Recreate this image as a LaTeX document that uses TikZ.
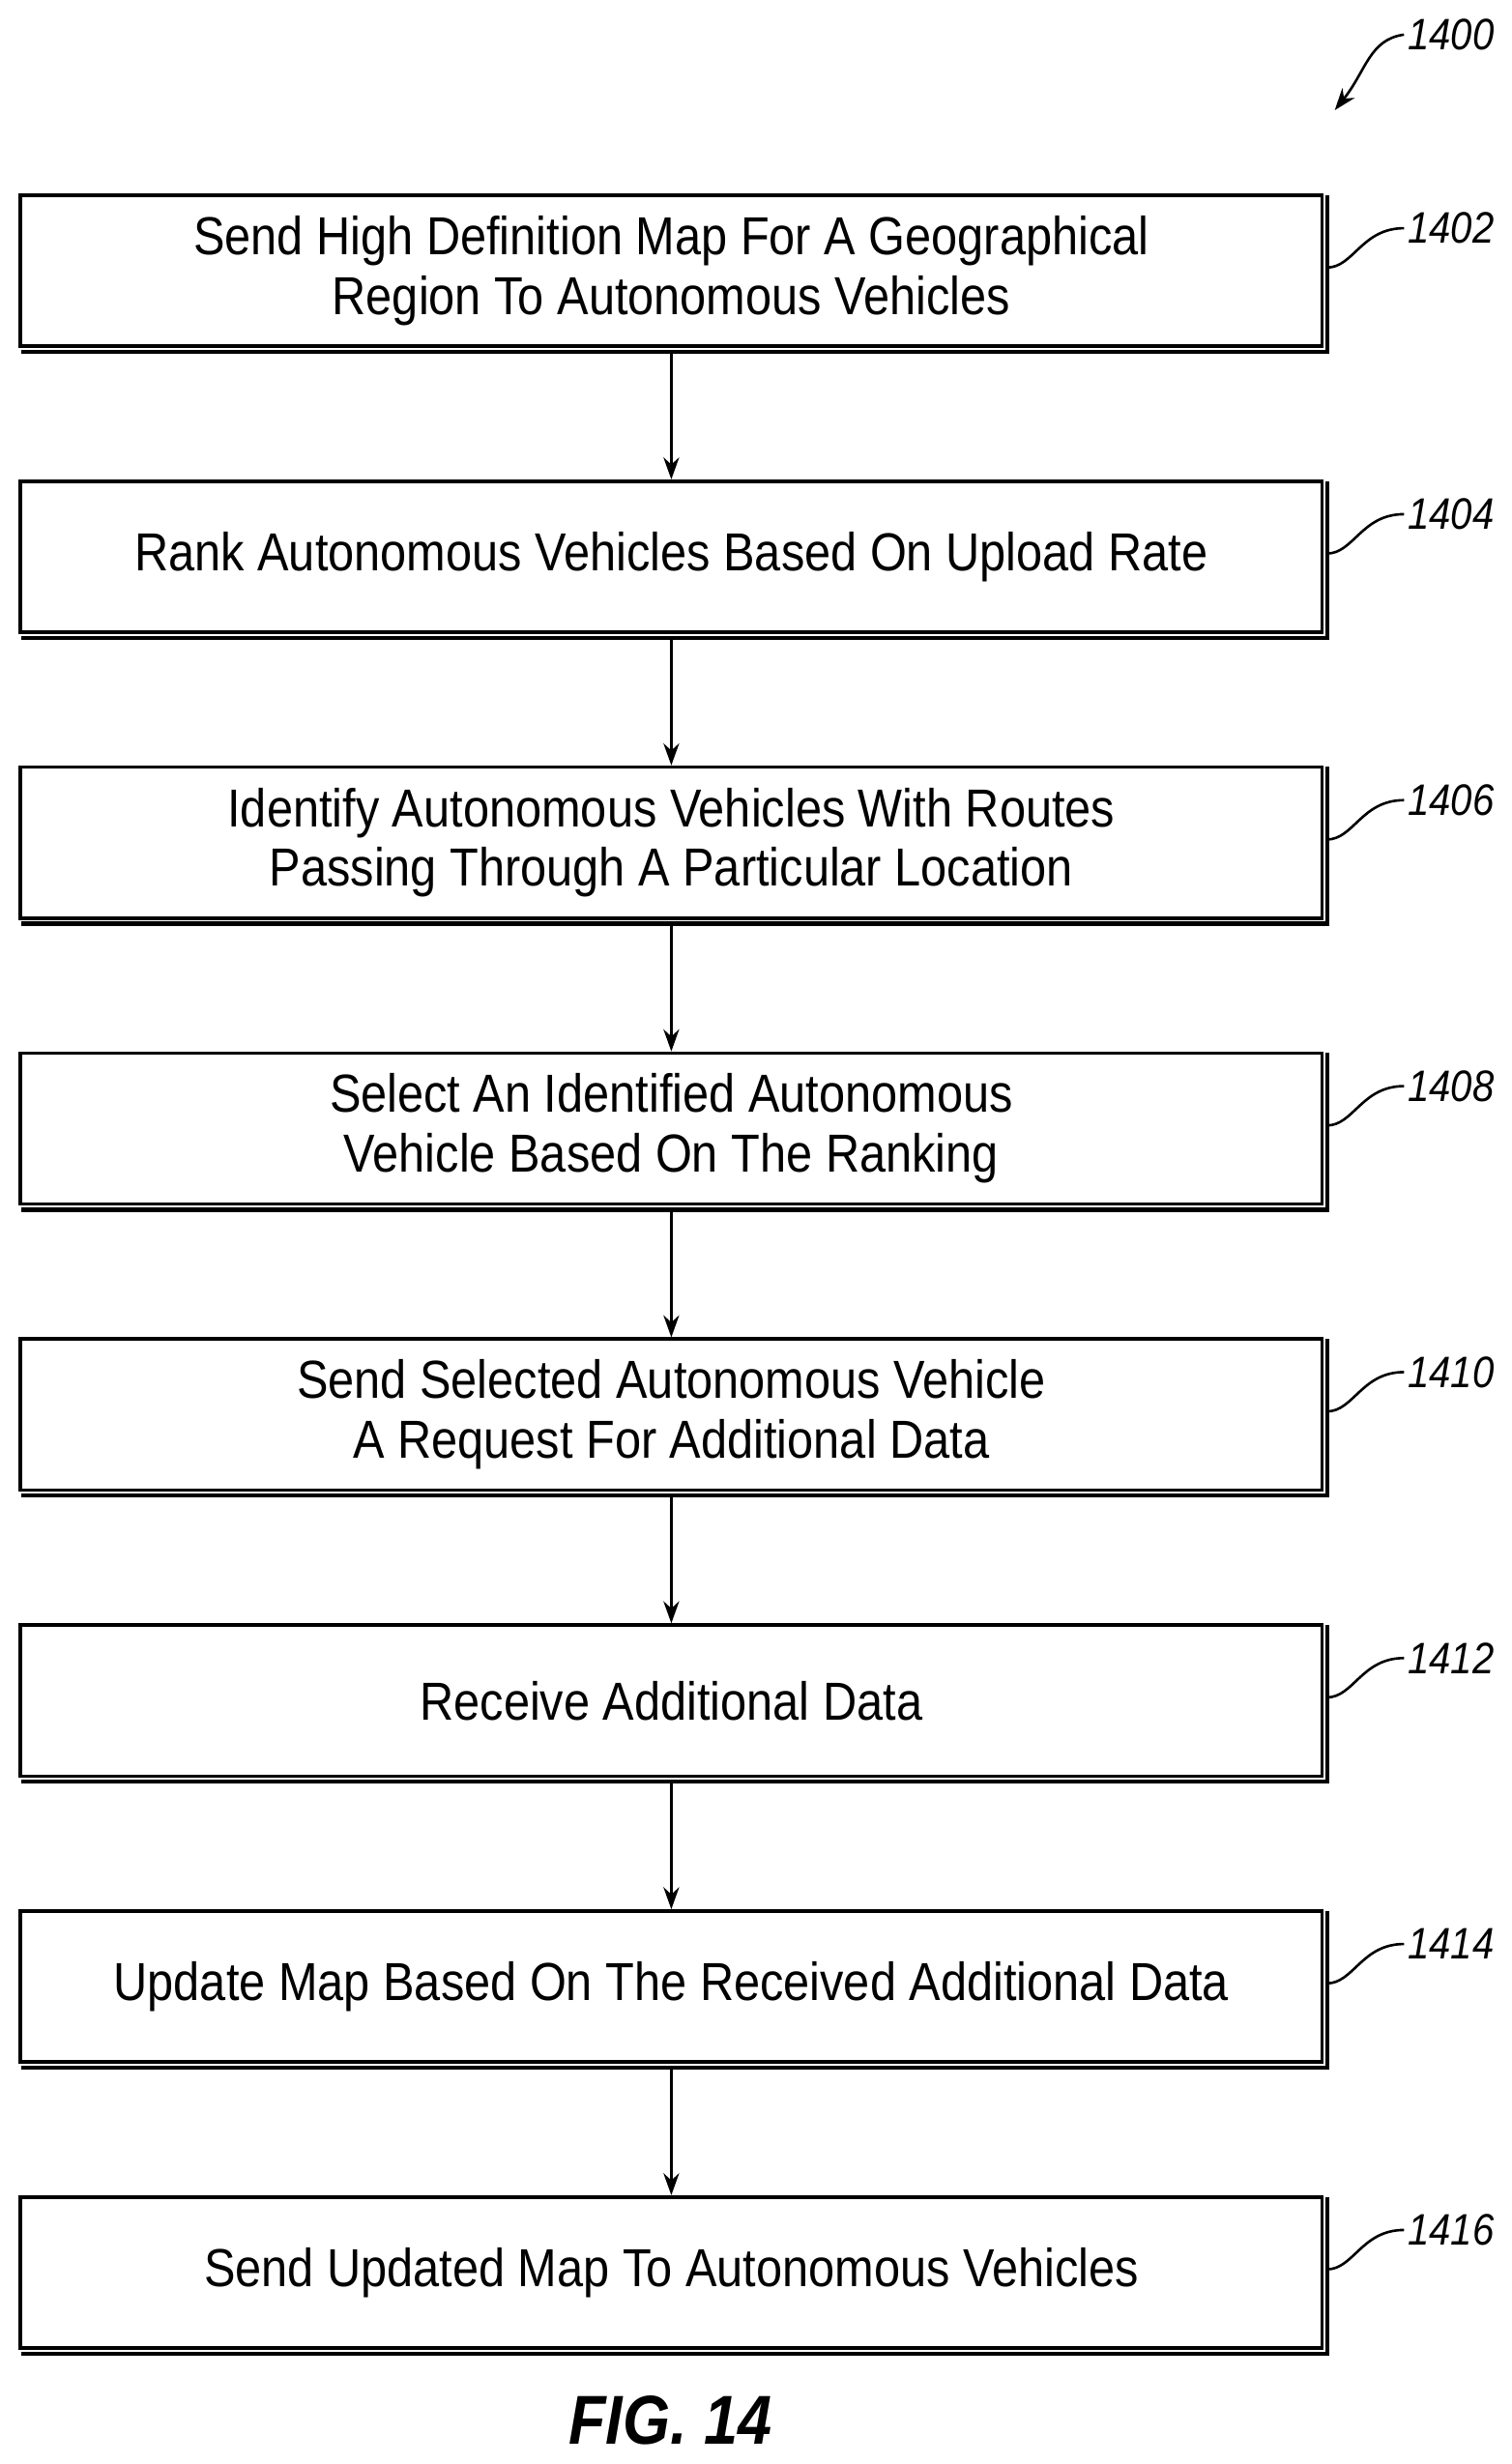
\documentclass[tikz,border=0pt]{standalone}
\usepackage{fontspec}
\setmainfont{Liberation Sans}[FakeStretch=0.88]
\usetikzlibrary{arrows.meta}
\begin{document}
\begin{tikzpicture}[x=0.5pt,y=-0.5pt,
  box/.style={draw,line width=1.1pt,minimum width=413.5pt,minimum height=48pt,align=center,font=\fontsize{17}{19}\selectfont,inner sep=0pt},
  lab/.style={font=\itshape\fontsize{14}{16}\selectfont,anchor=west,inner sep=1pt},
  arr/.style={-{Stealth[length=7pt,width=5pt]},line width=0.8pt}]
\useasboundingbox (0,0) rectangle (960,1565.6);
\foreach \i/\n/\t in {0/1402/{Send High Definition Map For A Geographical\\Region To Autonomous Vehicles},
  1/1404/{Rank Autonomous Vehicles Based On Upload Rate},
  2/1406/{Identify Autonomous Vehicles With Routes\\Passing Through A Particular Location},
  3/1408/{Select An Identified Autonomous\\Vehicle Based On The Ranking},
  4/1410/{Send Selected Autonomous Vehicle\\A Request For Additional Data},
  5/1412/{Receive Additional Data},
  6/1414/{Update Map Based On The Received Additional Data},
  7/1416/{Send Updated Map To Autonomous Vehicles}}{
  \node[box] (b\i) at (426.5,{172+181.7*\i}) {\t};
  \draw[line width=1.3pt] ([xshift=0.8pt,yshift=-1.2pt]b\i.south west) -- ([xshift=1.2pt,yshift=-1.2pt]b\i.south east) -- ([xshift=1.2pt,yshift=-0.5pt]b\i.north east);
  \node[lab] (l\i) at (892,{145+181.7*\i}) {\n};
  \draw[line width=0.8pt] (843,{170+181.7*\i}) .. controls (860,{170+181.7*\i}) and (865,{145+181.7*\i}) .. (l\i.west);
}
\foreach \i [evaluate=\i as \j using int(\i+1)] in {0,...,6}{
  \draw[arr] ([yshift=-1.2pt]b\i.south) -- (b\j.north);
}
\node[lab] (top) at (892,22) {1400};
\coordinate (ta) at (848,70);
\draw[line width=0.8pt,-{Stealth[length=7pt,width=5pt]}] (top.west) .. controls (870,25) and (868,45) .. (ta);
\node[font=\bfseries\itshape\fontsize{22}{24}\selectfont] (fig) at (426,1538) {FIG. 14};
\end{tikzpicture}
\end{document}
